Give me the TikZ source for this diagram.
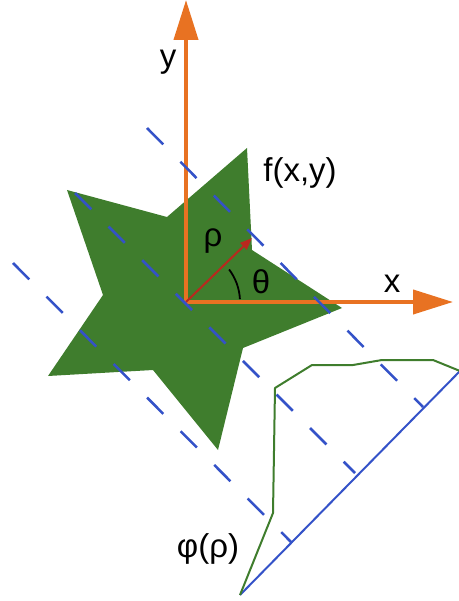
\documentclass[tikz,border=0pt]{standalone}
\usepackage{fontspec}
\setmainfont{Liberation Sans}
\usetikzlibrary{arrows.meta}
\definecolor{axisorange}{RGB}{232,114,34}
\definecolor{stargreen}{RGB}{63,125,45}
\definecolor{projblue}{RGB}{52,82,200}
\definecolor{rhored}{RGB}{185,40,30}

\begin{document}
\begin{tikzpicture}[
    x=1pt, y=-1pt,
    axis/.style={draw=axisorange, line width=4pt,
                 -{Triangle[length=40pt, width=24pt]}},
    ray/.style={draw=projblue, line width=2.5pt, dash pattern=on 23pt off 24.5pt},
    proj/.style={draw=projblue, line width=2pt},
    prof/.style={draw=stargreen, line width=2pt, line join=round},
    lbl/.style={font=\fontsize{33}{36}\selectfont, inner sep=0pt, anchor=base}
]
\useasboundingbox (0,0) rectangle (458,601);

% object f(x,y)
\fill[stargreen] (247,148) -- (167,217) -- (67,190) -- (103,295) -- (48,376)
    -- (153,370) -- (218,450) -- (243,348) -- (342,308) -- (252,250) -- cycle;

% axes
\coordinate (O) at (186,302);
\coordinate (ytip) at (186,0);
\coordinate (xtip) at (453,302);
\draw[axis] (O) -- (ytip);
\draw[axis] (O) -- (xtip);

% rho and theta
\coordinate (rhotip) at (252,238);
\draw[rhored, line width=2pt, -{Triangle[length=12pt, width=9pt]}] (O) -- (rhotip);
\draw[line width=1.8pt] ([shift={(-3:54)}]O) arc[start angle=-3, end angle=-37, radius=54];

% parallel rays
\coordinate (r1a) at (147,128);  \coordinate (r1b) at (423,407);
\coordinate (r2a) at (75,193);   \coordinate (r2b) at (355,473);
\coordinate (r3a) at (13,263);   \coordinate (r3b) at (292,543);
\draw[ray] (r1a) -- (r1b);
\draw[ray] (r2a) -- (r2b);
\draw[ray] (r3a) -- (r3b);

% projection axis and profile
\coordinate (pa) at (240,595);
\coordinate (pb) at (460,371);
\draw[proj] (pa) -- (pb);
\draw[prof] (pa) -- (273,513) -- (275,388) -- (312,365) -- (353,365)
    -- (382,360) -- (433,360) -- (pb);

% labels
\node[lbl] (ylab) at (168,68) {y};
\node[lbl] (xlab) at (392,292) {x};
\node[lbl] (flab) at (300,182) {f(x,y)};
\node[lbl] (rholab) at (213,247) {ρ};
\node[lbl] (thlab) at (261,293) {θ};
\node[lbl] (philab) at (208,557) {φ(ρ)};
\end{tikzpicture}
\end{document}
